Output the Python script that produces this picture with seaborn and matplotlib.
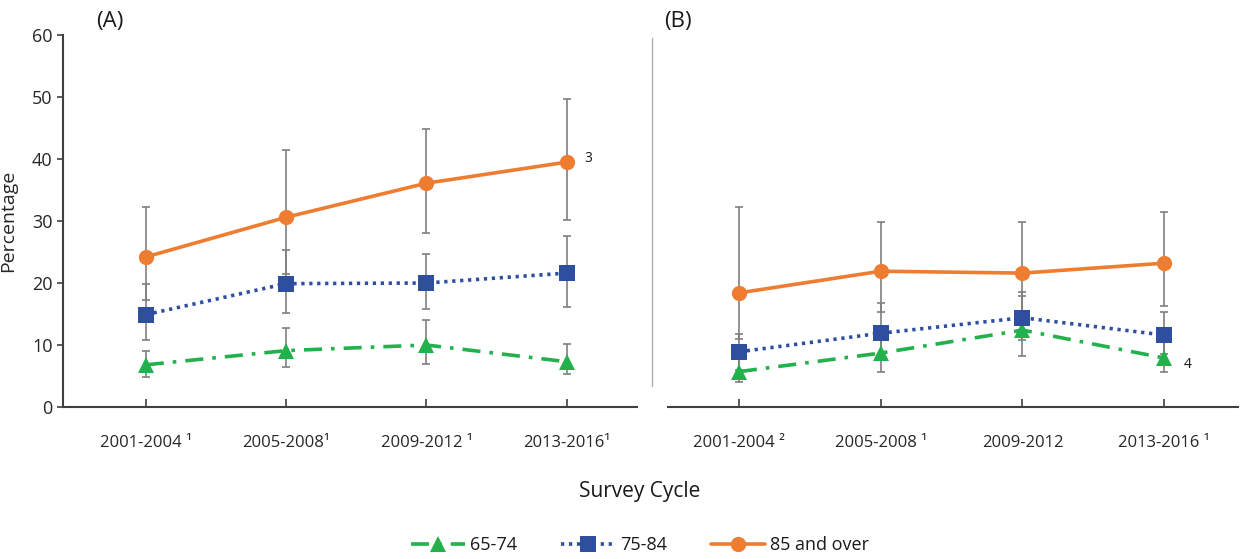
"""
Prevalence by survey cycle and age group, panels (A) and (B)
"""

import pandas as pd
import matplotlib
import matplotlib.pyplot as plt
from matplotlib.lines import Line2D
import seaborn as sns

matplotlib.use("Agg")

# ============================================================
# DATA
# ============================================================

cycles = ["2001-2004", "2005-2008", "2009-2012", "2013-2016"]
groups = ["65-74", "75-84", "85 and over"]

a_tick_labels = ["2001-2004 ¹", "2005-2008¹", "2009-2012 ¹", "2013-2016¹"]
b_tick_labels = ["2001-2004 ²", "2005-2008 ¹", "2009-2012", "2013-2016 ¹"]

# Panel A
a_65_74 = [6.8, 9.1, 10.0, 7.3]
a_65_74_lo = [4.9, 6.4, 7.0, 5.3]
a_65_74_hi = [9.0, 12.7, 14.0, 10.1]

a_75_84 = [14.9, 19.9, 20.0, 21.6]
a_75_84_lo = [10.8, 15.1, 15.8, 16.2]
a_75_84_hi = [19.8, 25.3, 24.7, 27.6]

a_85_up = [24.2, 30.6, 36.1, 39.5]
a_85_up_lo = [17.2, 21.5, 28.0, 30.1]
a_85_up_hi = [32.2, 41.5, 44.8, 49.6]

# Panel B
b_65_74 = [5.7, 8.7, 12.4, 7.9]
b_65_74_lo = [4.0, 5.6, 8.2, 5.6]
b_65_74_hi = [8.0, 11.0, 17.9, 10.5]

b_75_84 = [8.9, 11.9, 14.4, 11.6]
b_75_84_lo = [6.0, 8.0, 10.8, 8.5]
b_75_84_hi = [11.8, 16.8, 18.5, 15.3]

b_85_up = [18.4, 21.9, 21.6, 23.2]
b_85_up_lo = [11.0, 15.3, 14.5, 16.3]
b_85_up_hi = [32.2, 29.8, 29.8, 31.4]

# ============================================================
# STYLE
# ============================================================

COULEURS = {"65-74": "#22B14C", "75-84": "#2E4E9E", "85 and over": "#EE7D31"}
MARQUEURS = {"65-74": "^", "75-84": "s", "85 and over": "o"}
TIRETS = {"65-74": (5, 2.5, 1, 2.5), "75-84": (0.9, 1.3), "85 and over": ""}
GRIS = "#7F7F7F"
AXE = "#404040"

sns.set_style("white")
plt.rcParams["font.family"] = ["Open Sans", "DejaVu Sans"]
plt.rcParams["text.color"] = "#1A1A1A"


def _long(v1, v2, v3):
    rows = []
    for g, vals in zip(groups, [v1, v2, v3]):
        for c, v in zip(cycles, vals):
            rows.append({"cycle": c, "group": g, "pct": v})
    return pd.DataFrame(rows)


def _panel(ax, df, bornes, tick_labels):
    # error bars first, behind the lines
    for g in groups:
        vals, lo, hi = bornes[g]
        ax.errorbar(cycles, vals,
                    yerr=[[v - l for v, l in zip(vals, lo)],
                          [h - v for v, h in zip(vals, hi)]],
                    fmt="none", ecolor=GRIS, elinewidth=1.2,
                    capsize=3, capthick=1.2, zorder=1)

    sns.lineplot(data=df, x="cycle", y="pct", hue="group", style="group",
                 hue_order=groups, style_order=groups,
                 palette=COULEURS, markers=MARQUEURS, dashes=TIRETS,
                 linewidth=2.6, markersize=11, markeredgewidth=0,
                 ax=ax, zorder=3, legend=True)

    ax.set_ylim(0, 60)
    ax.set_xticks(range(len(cycles)))
    ax.set_xticklabels(tick_labels, fontsize=12)
    ax.set_xlabel("")
    ax.tick_params(axis="x", direction="in", length=6, width=1.2,
                   color=AXE, pad=20, bottom=True)
    for s in ["top", "right"]:
        ax.spines[s].set_visible(False)
    ax.spines["bottom"].set_color(AXE)
    ax.spines["bottom"].set_linewidth(1.5)


fig = plt.figure(figsize=(12.44, 5.59), dpi=100)
ax_a = fig.add_axes([63 / 1244, 152 / 559, 574 / 1244, 372 / 559])
ax_b = fig.add_axes([668 / 1244, 152 / 559, 570 / 1244, 372 / 559])

# --- Panel A ---
_panel(ax_a, _long(a_65_74, a_75_84, a_85_up),
       {"65-74": (a_65_74, a_65_74_lo, a_65_74_hi),
        "75-84": (a_75_84, a_75_84_lo, a_75_84_hi),
        "85 and over": (a_85_up, a_85_up_lo, a_85_up_hi)},
       a_tick_labels)
ax_a.set_xlim(-0.59, 3.5)
ax_a.set_yticks(range(0, 61, 10))
ax_a.tick_params(axis="y", direction="out", length=4, width=1.2,
                 color=AXE, labelsize=13, left=True)
ax_a.spines["left"].set_color(AXE)
ax_a.spines["left"].set_linewidth(1.5)
ax_a.set_ylabel("Percentage", fontsize=14)
ax_a.yaxis.set_label_coords(-0.08, 0.5)
ax_a.annotate("3", xy=(3, a_85_up[-1]), xytext=(18, 4),
              textcoords="offset pixels", fontsize=10, ha="left", va="center")

# --- Panel B ---
_panel(ax_b, _long(b_65_74, b_75_84, b_85_up),
       {"65-74": (b_65_74, b_65_74_lo, b_65_74_hi),
        "75-84": (b_75_84, b_75_84_lo, b_75_84_hi),
        "85 and over": (b_85_up, b_85_up_lo, b_85_up_hi)},
       b_tick_labels)
ax_b.set_xlim(-0.5, 3.52)
ax_b.spines["left"].set_visible(False)
ax_b.set_yticks([])
ax_b.set_ylabel("")
ax_b.annotate("4", xy=(3, b_65_74[-1]), xytext=(19, -6),
              textcoords="offset pixels", fontsize=10, ha="left", va="center")

# thin separator line between panels
fig.add_artist(Line2D([652 / 1244, 652 / 1244], [1 - 386 / 559, 1 - 38 / 559],
                      transform=fig.transFigure, color="#B0B0B0", linewidth=1))

# panel letters
fig.text(96 / 1244, 1 - 22 / 559, "(A)", fontsize=16, va="center", ha="left")
fig.text(664 / 1244, 1 - 22 / 559, "(B)", fontsize=16, va="center", ha="left")

fig.text(640 / 1244, 1 - 492 / 559, "Survey Cycle", fontsize=15,
         ha="center", va="center")

# legend
handles, labels = ax_a.get_legend_handles_labels()
ax_a.get_legend().remove()
ax_b.get_legend().remove()
fig.legend(handles, labels, loc="center", bbox_to_anchor=(640 / 1244, 1 - 545 / 559),
           ncol=3, frameon=False, fontsize=13, handlelength=3.0,
           columnspacing=2.4, handletextpad=0.3)

fig.savefig("out.png", dpi=100, facecolor="white")
plt.close(fig)
